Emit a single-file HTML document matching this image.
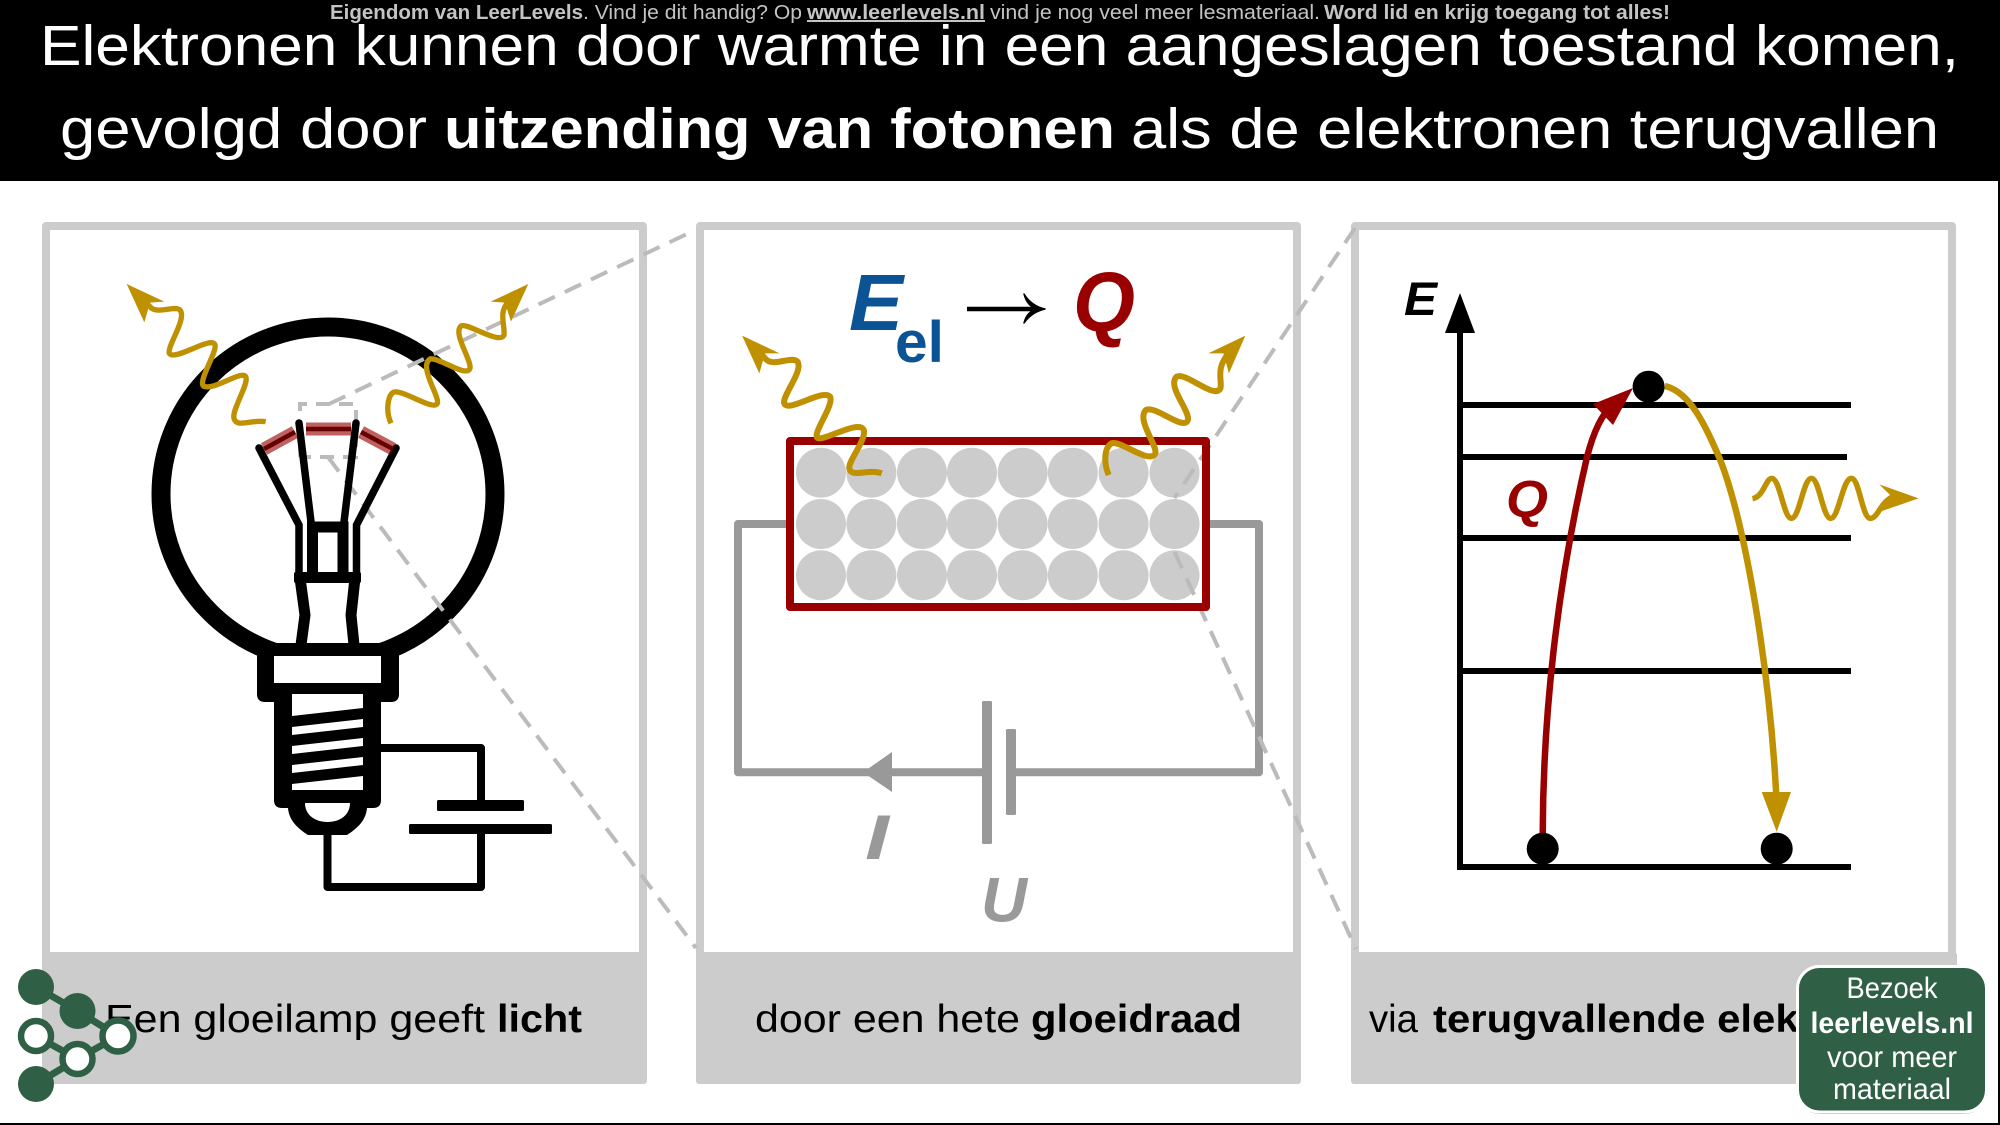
<!DOCTYPE html>
<html><head><meta charset="utf-8"><style>
html,body{margin:0;padding:0;background:#fff;width:2000px;height:1125px;overflow:hidden}
svg{display:block;position:absolute;left:0;top:0}
text{font-family:"Liberation Sans",sans-serif}
.ph{fill:none;stroke:#bf9000;stroke-linecap:butt;stroke-linejoin:round}
.ns{vector-effect:non-scaling-stroke}
</style></head><body>
<svg width="2000" height="1125" viewBox="0 0 2000 1125" xmlns="http://www.w3.org/2000/svg">
<rect width="2000" height="1125" fill="#fff"/>
<!-- panels -->
<g fill="#fff" stroke="#ccc" stroke-width="8" stroke-linejoin="round">
<rect x="46" y="226" width="597" height="854"/>
<rect x="700" y="226" width="597" height="854"/>
<rect x="1355" y="226" width="597" height="854"/>
</g>
<g fill="#ccc">
<rect x="42" y="952" width="605" height="132" rx="3"/>
<rect x="696" y="952" width="605" height="132" rx="3"/>
<rect x="1351" y="952" width="606" height="132" rx="3"/>
</g>
<!-- header -->
<rect x="0" y="0" width="2000" height="181" fill="#000"/>
<rect x="1998" y="0" width="2" height="1125" fill="#000"/>
<rect x="0" y="1123" width="2000" height="2" fill="#000"/>
<g fill="#fff" font-size="57">
<text x="40" y="65" textLength="1919" lengthAdjust="spacingAndGlyphs">Elektronen kunnen door warmte in een aangeslagen toestand komen,</text>
<text x="60" y="148" textLength="367" lengthAdjust="spacingAndGlyphs">gevolgd door</text>
<text x="444" y="148" textLength="671" lengthAdjust="spacingAndGlyphs" font-weight="700">uitzending van fotonen</text>
<text x="1131" y="148" textLength="808" lengthAdjust="spacingAndGlyphs">als de elektronen terugvallen</text>
</g>
<g fill="#c4c4c4" font-size="20">
<text x="330" y="19" textLength="253" lengthAdjust="spacingAndGlyphs" font-weight="700">Eigendom van LeerLevels</text>
<text x="583" y="19" textLength="219" lengthAdjust="spacingAndGlyphs">. Vind je dit handig? Op</text>
<text x="807" y="19" textLength="178" lengthAdjust="spacingAndGlyphs" font-weight="700" text-decoration="underline">www.leerlevels.nl</text>
<text x="990" y="19" textLength="330" lengthAdjust="spacingAndGlyphs">vind je nog veel meer lesmateriaal.</text>
<text x="1324" y="19" textLength="346" lengthAdjust="spacingAndGlyphs" font-weight="700">Word lid en krijg toegang tot alles!</text>
</g>

<!-- BULB -->
<circle cx="328" cy="494" r="167" fill="#fff" stroke="#000" stroke-width="19"/>
<path d="M257 655H399V694Q399 702 391 702H381V800Q381 808 373 808H367C366 820 358 828 347 835H308C297 828 289 820 288 808H282Q274 808 274 800V702H265Q257 702 257 694Z" fill="#000"/>
<rect x="274" y="643" width="108" height="14" fill="#000"/>
<rect x="274" y="656" width="107" height="27" fill="#fff"/>
<rect x="292" y="694" width="71" height="96" fill="#fff"/>
<g fill="#000">
<polygon points="292,716 363,708 363,719 292,727"/>
<polygon points="292,735 363,727 363,738 292,746"/>
<polygon points="292,754 363,746 363,757 292,765"/>
<polygon points="292,773 363,765 363,776 292,784"/>
</g>
<path d="M305 803H350C350 815 340 822 327.500 822C315 822 305 815 305 803Z" fill="#fff"/>
<!-- circuit -->
<g fill="none" stroke="#000" stroke-width="8" stroke-linejoin="round">
<path d="M381 748H481V802"/>
<path d="M327.500 835V887H481V832"/>
</g>
<rect x="437" y="800" width="87" height="11" rx="1.500" fill="#000"/>
<rect x="409" y="824" width="143" height="10" rx="1.500" fill="#000"/>
<!-- dashes panel1 -->
<g fill="none" stroke="#bbb" stroke-width="4" stroke-dasharray="18 11">
<path d="M300 457V404H356V457H300" stroke-dasharray="14 9"/>
<path d="M329 404L689 233"/>
<path d="M328 457L696 948"/>
</g>
<!-- bulb inner -->
<g fill="none" stroke="#000" stroke-linecap="round" stroke-linejoin="miter" stroke-width="7.500">
<path d="M259 448L299 525V575"/>
<path d="M396 448L356.500 525V575"/>
<path d="M299 423L311 522"/>
<path d="M356 423L344 522"/>
</g>
<path d="M300 578L305 615L301 645M355 578L351 615L354 645" fill="none" stroke="#000" stroke-width="11"/>
<rect x="294" y="572" width="67" height="11" rx="2" fill="#000"/>
<path d="M312.500 572V527H343V572" fill="none" stroke="#000" stroke-width="11"/>
<g fill="none" stroke-linecap="butt">
<path d="M306 429H351M264 449L295 432M361 432L393 449" stroke="#900" stroke-opacity=".62" stroke-width="13"/>
<path d="M306 429H351M264 449L295 432M361 432L393 449" stroke="#600" stroke-width="4.500"/>
</g>
<!-- photons on bulb -->
<g transform="translate(100 260) scale(.33333)">
<path class="ph" stroke-width="16" d="M497 485C450 478 410 505 402 475C395 450 445 375 438 352C430 325 340 395 310 378C295 360 352 275 345 255C335 225 225 305 208 280C200 260 262 175 240 150C225 135 170 165 150 140L130 120"/>
<polygon points="80,72 193,125 150,128 133,187" fill="#bf9000"/>
<path class="ph" stroke-width="16" d="M873 490C855 450 865 405 880 397C905 385 1000 455 1012 430C1020 410 955 320 990 297C1015 290 1100 355 1110 325C1115 300 1055 215 1085 197C1105 190 1200 255 1212 225C1215 190 1195 160 1225 125"/>
<polygon points="1285,72 1172,125 1215,128 1233,185" fill="#bf9000"/>
</g>

<!-- PANEL 2 -->
<g fill="none" stroke="#999" stroke-width="8" stroke-linejoin="round">
<path d="M790 524H738V772.300H987"/>
<path d="M1206 524H1259V772.300H1011"/>
</g>
<polygon points="863,772.300 892,752 892,792" fill="#999"/>
<rect x="982" y="701" width="10" height="143" rx="1.500" fill="#999"/>
<rect x="1006" y="729" width="10" height="86" rx="1.500" fill="#999"/>
<g fill="#999" font-size="63" font-weight="700" font-style="italic">
<text x="865" y="859" textLength="24" lengthAdjust="spacingAndGlyphs">I</text>
<text x="981" y="921.500" textLength="46" lengthAdjust="spacingAndGlyphs">U</text>
</g>
<g fill="#ccc">
<circle cx="821" cy="472.700" r="25"/><circle cx="871.400" cy="472.700" r="25"/><circle cx="922" cy="472.700" r="25"/><circle cx="972" cy="472.700" r="25"/><circle cx="1022.600" cy="472.700" r="25"/><circle cx="1072.800" cy="472.700" r="25"/><circle cx="1123.600" cy="472.700" r="25"/><circle cx="1174.500" cy="472.700" r="25"/>
<circle cx="821" cy="524" r="25"/><circle cx="871.400" cy="524" r="25"/><circle cx="922" cy="524" r="25"/><circle cx="972" cy="524" r="25"/><circle cx="1022.600" cy="524" r="25"/><circle cx="1072.800" cy="524" r="25"/><circle cx="1123.600" cy="524" r="25"/><circle cx="1174.500" cy="524" r="25"/>
<circle cx="821" cy="575.300" r="25"/><circle cx="871.400" cy="575.300" r="25"/><circle cx="922" cy="575.300" r="25"/><circle cx="972" cy="575.300" r="25"/><circle cx="1022.600" cy="575.300" r="25"/><circle cx="1072.800" cy="575.300" r="25"/><circle cx="1123.600" cy="575.300" r="25"/><circle cx="1174.500" cy="575.300" r="25"/>
</g>
<g fill="none" stroke="#bbb" stroke-width="4" stroke-dasharray="18 11">
<path d="M1355 228L1174.500 498"/>
<path d="M1174.500 552L1356 949"/>
</g>
<rect x="790" y="441" width="416" height="166" fill="none" stroke="#900" stroke-width="8" stroke-linejoin="round"/>
<g transform="translate(700 240) scale(.3827 .33333)">
<path class="ph ns" stroke-width="6" d="M475 700C440 685 395 715 390 685C388 660 435 600 428 570C415 535 310 615 305 590C300 570 350 495 340 470C320 445 230 520 220 490C215 465 270 395 255 365C240 345 190 385 170 355L155 335"/>
<polygon points="110,287 208,340 170,340 155,400" fill="#bf9000"/>
<path class="ph ns" stroke-width="6" d="M1068 705C1055 670 1055 625 1075 610C1100 600 1175 675 1190 640C1195 615 1140 540 1165 510C1190 495 1265 575 1275 540C1280 510 1220 440 1245 410C1270 395 1345 480 1360 445C1365 420 1345 385 1385 335"/>
<polygon points="1425,287 1328,340 1368,340 1382,400" fill="#bf9000"/>
</g>
<text x="849" y="330" font-size="80" font-weight="700" font-style="italic" fill="#0b5394" textLength="54" lengthAdjust="spacingAndGlyphs">E</text>
<text x="895" y="362" font-size="58" font-weight="700" fill="#0b5394" textLength="49" lengthAdjust="spacingAndGlyphs">el</text>
<path d="M967 309H1038" stroke="#000" stroke-width="4.500" fill="none"/>
<path d="M1024 294C1029 302 1036 307 1045 309C1036 311 1029 316 1024 323C1026 315 1030 311 1037 309C1030 307 1026 302 1024 294Z" fill="#000" stroke="#000" stroke-width="1.500" stroke-linejoin="round"/>
<text x="1073" y="331" font-size="84" font-weight="700" font-style="italic" fill="#900" textLength="62" lengthAdjust="spacingAndGlyphs">Q</text>

<!-- PANEL 3 -->
<g stroke="#000" stroke-width="6" fill="none">
<path d="M1460 330V870"/>
<path d="M1460 405H1851M1460 457H1847M1460 538H1851M1460 671H1851M1457 867H1851"/>
</g>
<polygon points="1460,293 1445,333 1475,333" fill="#000"/>
<text x="1404" y="315" font-size="47" font-weight="700" font-style="italic" fill="#000" textLength="33" lengthAdjust="spacingAndGlyphs">E</text>
<text x="1506" y="517" font-size="52" font-weight="700" font-style="italic" fill="#900" textLength="42" lengthAdjust="spacingAndGlyphs">Q</text>
<path d="M1542.700 835C1543 720 1556 590 1587 457C1594 430 1602 415 1612 405" fill="none" stroke="#900" stroke-width="6.500"/>
<polygon points="1633,388 1593,404 1613,425" fill="#900"/>
<path d="M1665 386C1690 392 1705 425 1719 457C1745 520 1770 670 1776.500 800" fill="none" stroke="#bf9000" stroke-width="6.500"/>
<polygon points="1776.700,831.700 1761.700,792 1791,792" fill="#bf9000"/>
<circle cx="1648.600" cy="386.700" r="16" fill="#000"/>
<circle cx="1542.700" cy="848.700" r="16" fill="#000"/>
<circle cx="1776.700" cy="848.700" r="16" fill="#000"/>
<g transform="translate(1380 260) scale(.35714 .33333)">
<path class="ph ns" stroke-width="5.500" d="M1043 716C1075 710 1080 655 1097 655C1120 655 1130 775 1152 775C1175 775 1185 655 1208 655C1230 655 1240 775 1262 775C1285 775 1295 655 1320 655C1342 655 1350 775 1373 775C1395 775 1400 725 1440 708"/>
<polygon points="1508,715 1398,673 1435,712 1395,757" fill="#bf9000"/>
</g>

<!-- captions -->
<g fill="#000" font-size="39">
<text x="105" y="1032" textLength="380" lengthAdjust="spacingAndGlyphs">Een gloeilamp geeft</text>
<text x="497" y="1032" textLength="85" lengthAdjust="spacingAndGlyphs" font-weight="700">licht</text>
<text x="755" y="1032" textLength="265" lengthAdjust="spacingAndGlyphs">door een hete</text>
<text x="1031" y="1032" textLength="211" lengthAdjust="spacingAndGlyphs" font-weight="700">gloeidraad</text>
<text x="1369" y="1032" textLength="49" lengthAdjust="spacingAndGlyphs">via</text>
<text x="1433" y="1032" textLength="496" lengthAdjust="spacingAndGlyphs" font-weight="700">terugvallende elektronen</text>
</g>

<!-- logo -->
<g stroke="#2f5f45" stroke-width="7" fill="none">
<path d="M36 987L77.500 1011L118 1036L77.500 1059L36 1036M77.500 1059L36 1084"/>
</g>
<g fill="#2f5f45">
<circle cx="36" cy="987" r="18"/><circle cx="77.500" cy="1011" r="18"/><circle cx="36" cy="1084" r="18"/>
</g>
<g fill="#fff" stroke="#2f5f45" stroke-width="6.500">
<circle cx="36" cy="1036" r="15"/><circle cx="77.500" cy="1059" r="15"/><circle cx="118" cy="1036" r="15.500"/>
</g>

<!-- badge -->
<rect x="1798" y="969" width="188" height="145" rx="22" fill="#000" fill-opacity=".35"/>
<rect x="1797.500" y="966.500" width="189" height="145.500" rx="22" fill="#2f5f45" stroke="#fff" stroke-width="3"/>
<g fill="#fff" font-size="30" text-anchor="middle">
<text x="1892" y="998" textLength="91" lengthAdjust="spacingAndGlyphs">Bezoek</text>
<text x="1892" y="1033" textLength="163" lengthAdjust="spacingAndGlyphs" font-weight="700">leerlevels.nl</text>
<text x="1892" y="1067" textLength="130" lengthAdjust="spacingAndGlyphs">voor meer</text>
<text x="1892" y="1099" textLength="118" lengthAdjust="spacingAndGlyphs">materiaal</text>
</g>
</svg>
</body></html>
